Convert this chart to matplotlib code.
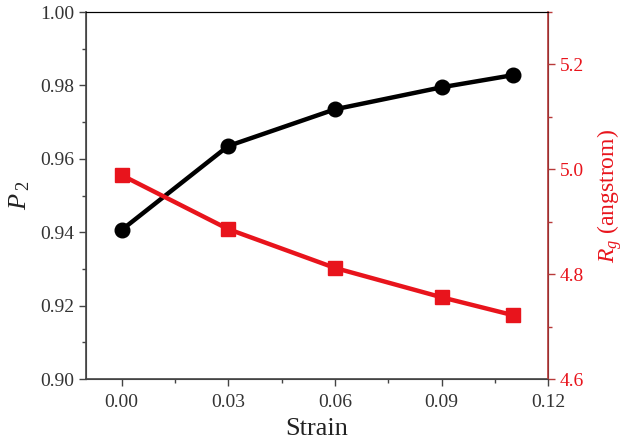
import matplotlib
matplotlib.use("Agg")
import matplotlib.pyplot as plt
from matplotlib.ticker import MultipleLocator

plt.rcParams["font.family"] = ["Liberation Serif", "DejaVu Serif"]
plt.rcParams["mathtext.fontset"] = "custom"
plt.rcParams["mathtext.rm"] = "Liberation Serif"
plt.rcParams["mathtext.it"] = "Liberation Serif:italic"

strain = [0.00, 0.03, 0.06, 0.09, 0.11]
p2 = [0.9406, 0.9635, 0.9735, 0.9795, 0.9828]
rg = [4.989, 4.886, 4.812, 4.756, 4.722]

red = "#e8141c"
dark_red = "#b83a3a"
grey = "#444444"

fig = plt.figure(figsize=(6.23, 4.47), dpi=100)
ax = fig.add_axes([0.138, 0.152, 0.742, 0.821])
ax2 = ax.twinx()

ax.plot(strain, p2, color="black", lw=3.2, marker="o", ms=10.5, zorder=3)
ax2.plot(strain, rg, color=red, lw=3.2, marker="s", ms=9.5, zorder=3)

ax.set_xlim(-0.01, 0.12)
ax.set_ylim(0.90, 1.00)
ax2.set_ylim(4.6, 5.3)

ax.xaxis.set_major_locator(MultipleLocator(0.03))
ax.xaxis.set_minor_locator(MultipleLocator(0.015))
ax.yaxis.set_major_locator(MultipleLocator(0.02))
ax.yaxis.set_minor_locator(MultipleLocator(0.01))
ax2.yaxis.set_major_locator(MultipleLocator(0.2))
ax2.yaxis.set_minor_locator(MultipleLocator(0.1))
ax.xaxis.set_major_formatter(plt.FormatStrFormatter("%.2f"))
ax.yaxis.set_major_formatter(plt.FormatStrFormatter("%.2f"))
ax2.yaxis.set_major_formatter(plt.FormatStrFormatter("%.1f"))

ax.tick_params(axis="both", which="major", direction="out", length=5, width=1,
               labelsize=14, colors=grey, labelcolor="#333333")
ax.tick_params(axis="x", which="major", pad=6)
ax.tick_params(axis="both", which="minor", direction="out", length=3, width=1, colors=grey)
ax2.tick_params(axis="y", which="major", direction="out", length=5, width=1,
                labelsize=14, colors=dark_red, labelcolor=red)
ax2.tick_params(axis="y", which="minor", direction="out", length=3, width=1, colors=dark_red)

for s in ["left", "bottom"]:
    ax.spines[s].set_color(grey)
    ax.spines[s].set_linewidth(1.2)
ax2.spines["left"].set_color(grey)
ax2.spines["bottom"].set_color(grey)
ax2.spines["top"].set_color("black")
ax2.spines["right"].set_color(dark_red)
ax2.spines["right"].set_linewidth(1.2)

ax.set_xlabel("Strain", fontsize=19, color="#222222", labelpad=5)
ax.set_ylabel(r"$P\,_{2}$", fontsize=19, color="#222222", labelpad=6)
ax2.set_ylabel(r"$R_{g}$ (angstrom)", fontsize=17, color=red, labelpad=8)

fig.savefig("out.png", dpi=100)
